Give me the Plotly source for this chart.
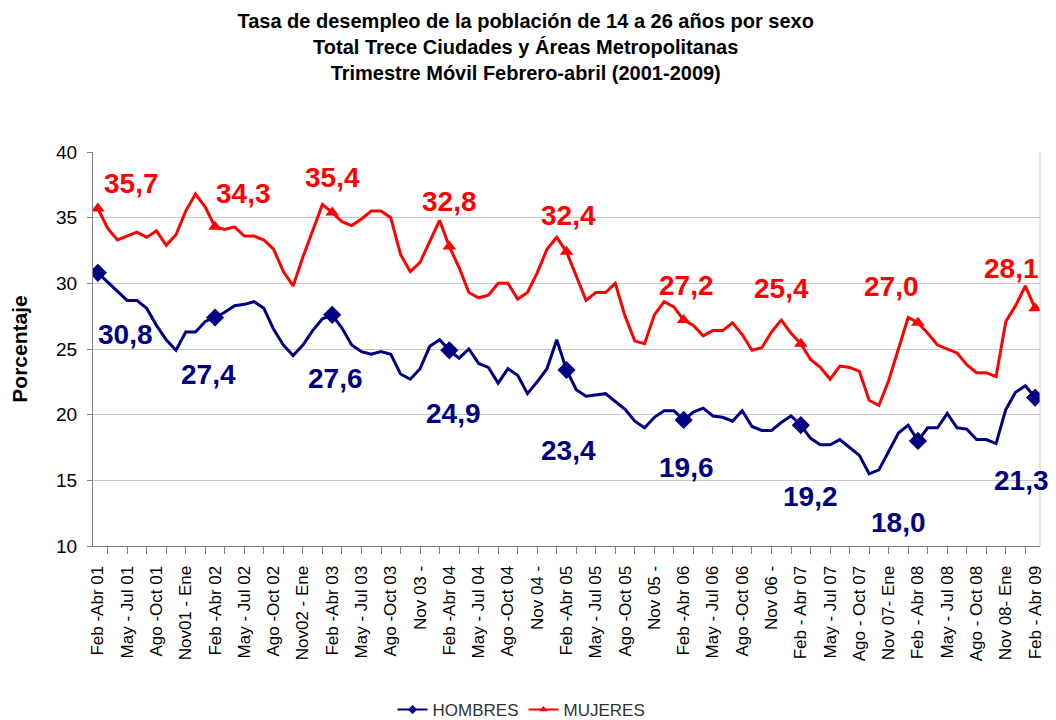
import plotly.graph_objects as go

# Etiquetas del eje X (cada trimestre movil, una de cada tres)
periodos = [
    "Feb -Abr 01", "May - Jul 01", "Ago -Oct 01", "Nov01 - Ene",
    "Feb -Abr 02", "May - Jul 02", "Ago -Oct 02", "Nov02 - Ene",
    "Feb -Abr 03", "May - Jul 03", "Ago -Oct 03", "Nov 03 -",
    "Feb -Abr 04", "May - Jul 04", "Ago -Oct 04", "Nov 04 -",
    "Feb -Abr 05", "May - Jul 05", "Ago -Oct 05", "Nov 05 -",
    "Feb -Abr 06", "May - Jul 06", "Ago -Oct 06", "Nov 06 -",
    "Feb - Abr 07", "May - Jul 07", "Ago - Oct 07", "Nov 07- Ene",
    "Feb - Abr 08", "May - Jul 08", "Ago - Oct 08", "Nov 08- Ene",
    "Feb - Abr 09",
]

# Tasa de desempleo mensual (trimestre movil), feb-abr 2001 a feb-abr 2009
hombres = [
    30.8, 30.1, 29.4, 28.7, 28.7, 28.1, 26.8, 25.7, 24.9, 26.3, 26.3, 27.1,
    27.4, 27.8, 28.3, 28.4, 28.6, 28.1, 26.5, 25.3, 24.5, 25.3, 26.4, 27.3,
    27.6, 26.6, 25.3, 24.8, 24.6, 24.8, 24.6, 23.1, 22.7, 23.5, 25.2, 25.7,
    24.9, 24.3, 25.0, 23.9, 23.6, 22.4, 23.5, 23.0, 21.6, 22.5, 23.5, 25.7,
    23.4, 21.9, 21.4, 21.5, 21.6, 21.0, 20.4, 19.5, 19.0, 19.8, 20.3, 20.3,
    19.6, 20.2, 20.5, 19.9, 19.8, 19.5, 20.3, 19.1, 18.8, 18.8, 19.4, 19.9,
    19.2, 18.2, 17.7, 17.7, 18.1, 17.5, 16.9, 15.5, 15.8, 17.2, 18.6, 19.2,
    18.0, 19.0, 19.0, 20.1, 19.0, 18.9, 18.1, 18.1, 17.8, 20.4, 21.7, 22.2,
    21.3,
]
mujeres = [
    35.7, 34.2, 33.3, 33.6, 33.9, 33.5, 34.0, 32.9, 33.7, 35.5, 36.8, 35.8,
    34.3, 34.1, 34.3, 33.6, 33.6, 33.3, 32.6, 30.9, 29.8, 32.0, 34.0, 36.0,
    35.4, 34.7, 34.4, 34.9, 35.5, 35.5, 35.0, 32.2, 30.9, 31.6, 33.2, 34.8,
    32.8, 31.2, 29.3, 28.9, 29.1, 30.0, 30.0, 28.8, 29.3, 30.8, 32.6, 33.5,
    32.4, 30.6, 28.7, 29.3, 29.3, 30.0, 27.5, 25.6, 25.4, 27.6, 28.6, 28.2,
    27.2, 26.8, 26.0, 26.4, 26.4, 27.0, 26.1, 24.9, 25.1, 26.3, 27.2, 26.2,
    25.4, 24.2, 23.6, 22.7, 23.7, 23.6, 23.3, 21.1, 20.7, 22.6, 25.0, 27.4,
    27.0, 26.2, 25.3, 25.0, 24.7, 23.8, 23.2, 23.2, 22.9, 27.1, 28.3, 29.8,
    28.1,
]

# desplazamiento (px) de las etiquetas de feb-abr respecto al punto
despl_hombres = [(28, -62), (-7, -57), (3, -64), (4, -63), (2, -80),
                 (3, -48), (10, -71), (-19, -82), (-14, -83)]
despl_mujeres = [(34, 25), (28, 33), (0, 35), (0, 45), (2, 36),
                 (3, 35), (-19, 55), (-26, 36), (-24, 40)]

AZUL = "#000080"
ROJO = "#FF0000"
FUENTE = "Liberation Sans, Arial, sans-serif"

idx = list(range(len(hombres)))
anual = idx[::12]

fig = go.Figure()

series = [
    ("HOMBRES", hombres, AZUL, "diamond", 14, despl_hombres),
    ("MUJERES", mujeres, ROJO, "triangle-up", 12, despl_mujeres),
]

for nombre, valores, color, simbolo, tam, despl in series:
    fig.add_trace(go.Scatter(
        x=idx, y=valores, mode="lines", showlegend=False,
        line=dict(color=color, width=3),
    ))
    fig.add_trace(go.Scatter(
        x=anual, y=[valores[i] for i in anual], mode="markers", showlegend=False,
        marker=dict(symbol=simbolo, size=tam, color=color),
    ))
    # entrada de leyenda
    fig.add_trace(go.Scatter(
        x=[None], y=[None], mode="lines+markers", name=nombre,
        line=dict(color=color, width=2),
        marker=dict(symbol=simbolo, size=7, color=color),
    ))
    for i, (dx, dy) in zip(anual, despl):
        fig.add_annotation(
            x=i, y=valores[i], text="<b>%s</b>" % f"{valores[i]:.1f}".replace(".", ","),
            showarrow=False, xshift=dx, yshift=dy,
            font=dict(family=FUENTE, size=28, color=color),
        )

# borde derecho del area de trazado
fig.add_shape(type="line", xref="paper", yref="paper", x0=1, x1=1, y0=0, y1=1,
              line=dict(color="#C8C8C8", width=1))

# la pagina deja 8 px de margen arriba y a la izquierda
fig.update_layout(
    width=1048, height=712,
    margin=dict(l=85, r=11, t=144, b=174),
    paper_bgcolor="white", plot_bgcolor="white",
    font=dict(family=FUENTE, color="black"),
    title=dict(
        text="<b>Tasa de desempleo de la población de 14 a 26 años por sexo<br>"
             "Total Trece Ciudades y Áreas Metropolitanas<br>"
             "Trimestre Móvil Febrero-abril (2001-2009)</b>",
        x=0.494, xref="container", xanchor="center",
        y=0.972, yref="container", yanchor="top",
        font=dict(family=FUENTE, size=20, color="black"),
    ),
    legend=dict(
        orientation="h", xref="container", yref="container",
        x=0.49, xanchor="center", y=0.014, yanchor="middle",
        font=dict(family=FUENTE, size=17, color="#333333"),
    ),
    showlegend=True,
)

fig.update_xaxes(
    range=[-0.5, len(hombres) - 0.5],
    tickmode="array", tickvals=idx[::3], ticktext=periodos,
    tickangle=-90, ticks="", showgrid=False, zeroline=False,
    showline=True, linecolor="#808080", linewidth=1,
    ticklabelstandoff=12,
    tickfont=dict(family=FUENTE, size=17, color="black"),
    minor=dict(tickvals=list(range(1, len(hombres), 2)), ticks="outside",
               ticklen=7, tickcolor="#808080", showgrid=False),
)
fig.update_yaxes(
    range=[10, 40], dtick=5, ticks="outside", ticklen=5, tickcolor="#808080",
    showgrid=True, gridcolor="#C8C8C8", zeroline=False,
    showline=True, linecolor="#808080", linewidth=1,
    ticklabelstandoff=6,
    tickfont=dict(family=FUENTE, size=19, color="black"),
    title=dict(text="<b>Porcentaje</b>", standoff=22,
               font=dict(family=FUENTE, size=21, color="black")),
)

fig.write_html("out.html")
